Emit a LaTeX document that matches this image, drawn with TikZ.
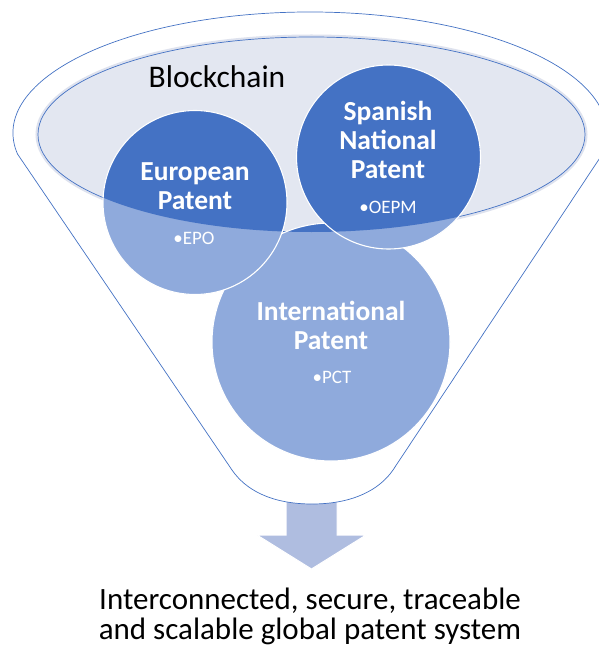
\documentclass[tikz,border=0pt]{standalone}
\usepackage{fontspec}
\setmainfont{Carlito}
\definecolor{patdark}{HTML}{4472C4}
\definecolor{patlight}{HTML}{8FAADC}
\definecolor{chainfill}{HTML}{E3E7F1}
\definecolor{chainglow}{HTML}{DEE2EE}
\definecolor{arrowfill}{HTML}{AFBDE0}
\begin{document}
\begin{tikzpicture}[x=1pt,y=-1pt,
				title/.style={text=white,font=\bfseries\fontsize{27.5}{29}\selectfont,align=center},
				office/.style={text=white,font=\fontsize{19}{21}\selectfont},
				rim/.style={draw=patdark,line width=0.7pt}]
\useasboundingbox (0,0) rectangle (598,647);
\coordinate (blk) at (311.5,134.5);
\coordinate (epo) at (195,202.5);
\coordinate (oepm) at (388.5,157);
\coordinate (pct) at (331,342);
\fill[arrowfill,draw=white,line width=1pt] (286,498) -- (286,535) -- (257,535) -- (311.5,569)
	-- (366,535) -- (337,535) -- (337,498) -- cycle;
\path[rim,fill=white] (17.5,154) arc[start angle=170,end angle=370,x radius=297,y radius=121]
	-- (393,470) .. controls (380,489) and (354,504) .. (312,504)
	.. controls (270,504) and (245,489) .. (232,470) -- cycle;
\draw[chainglow,line width=5pt] (blk) ellipse [x radius=273.5,y radius=97.5];
\path[rim,fill=chainfill] (blk) ellipse [x radius=273.5,y radius=97.5];
\foreach \c/\r in {pct/119,epo/92,oepm/92}{
	\fill[patlight] (\c) circle (\r);
	\begin{scope}
		\clip (blk) ellipse [x radius=273.5,y radius=97.5];
		\fill[patdark] (\c) circle (\r);
	\end{scope}
	\draw[white,line width=1.1pt] (\c) circle (\r);
}
\node[font=\fontsize{31.5}{34}\selectfont] (chain) at (217,77) {Blockchain};
\node[title] (epot) at (195,186) {European\\Patent};
\node[office] (epob) at (194,238) {•EPO};
\node[title] (oepmt) at (388,140) {Spanish\\National\\Patent};
\node[office] (oepmb) at (388,207) {•OEPM};
\node[title] (pctt) at (331,325) {International\\Patent};
\node[office] (pctb) at (332,377) {•PCT};
\node[font=\fontsize{31}{30.5}\selectfont,align=center] (goal) at (310,616.5)
	{Interconnected, secure, traceable\\and scalable global patent system};
\end{tikzpicture}
\end{document}
